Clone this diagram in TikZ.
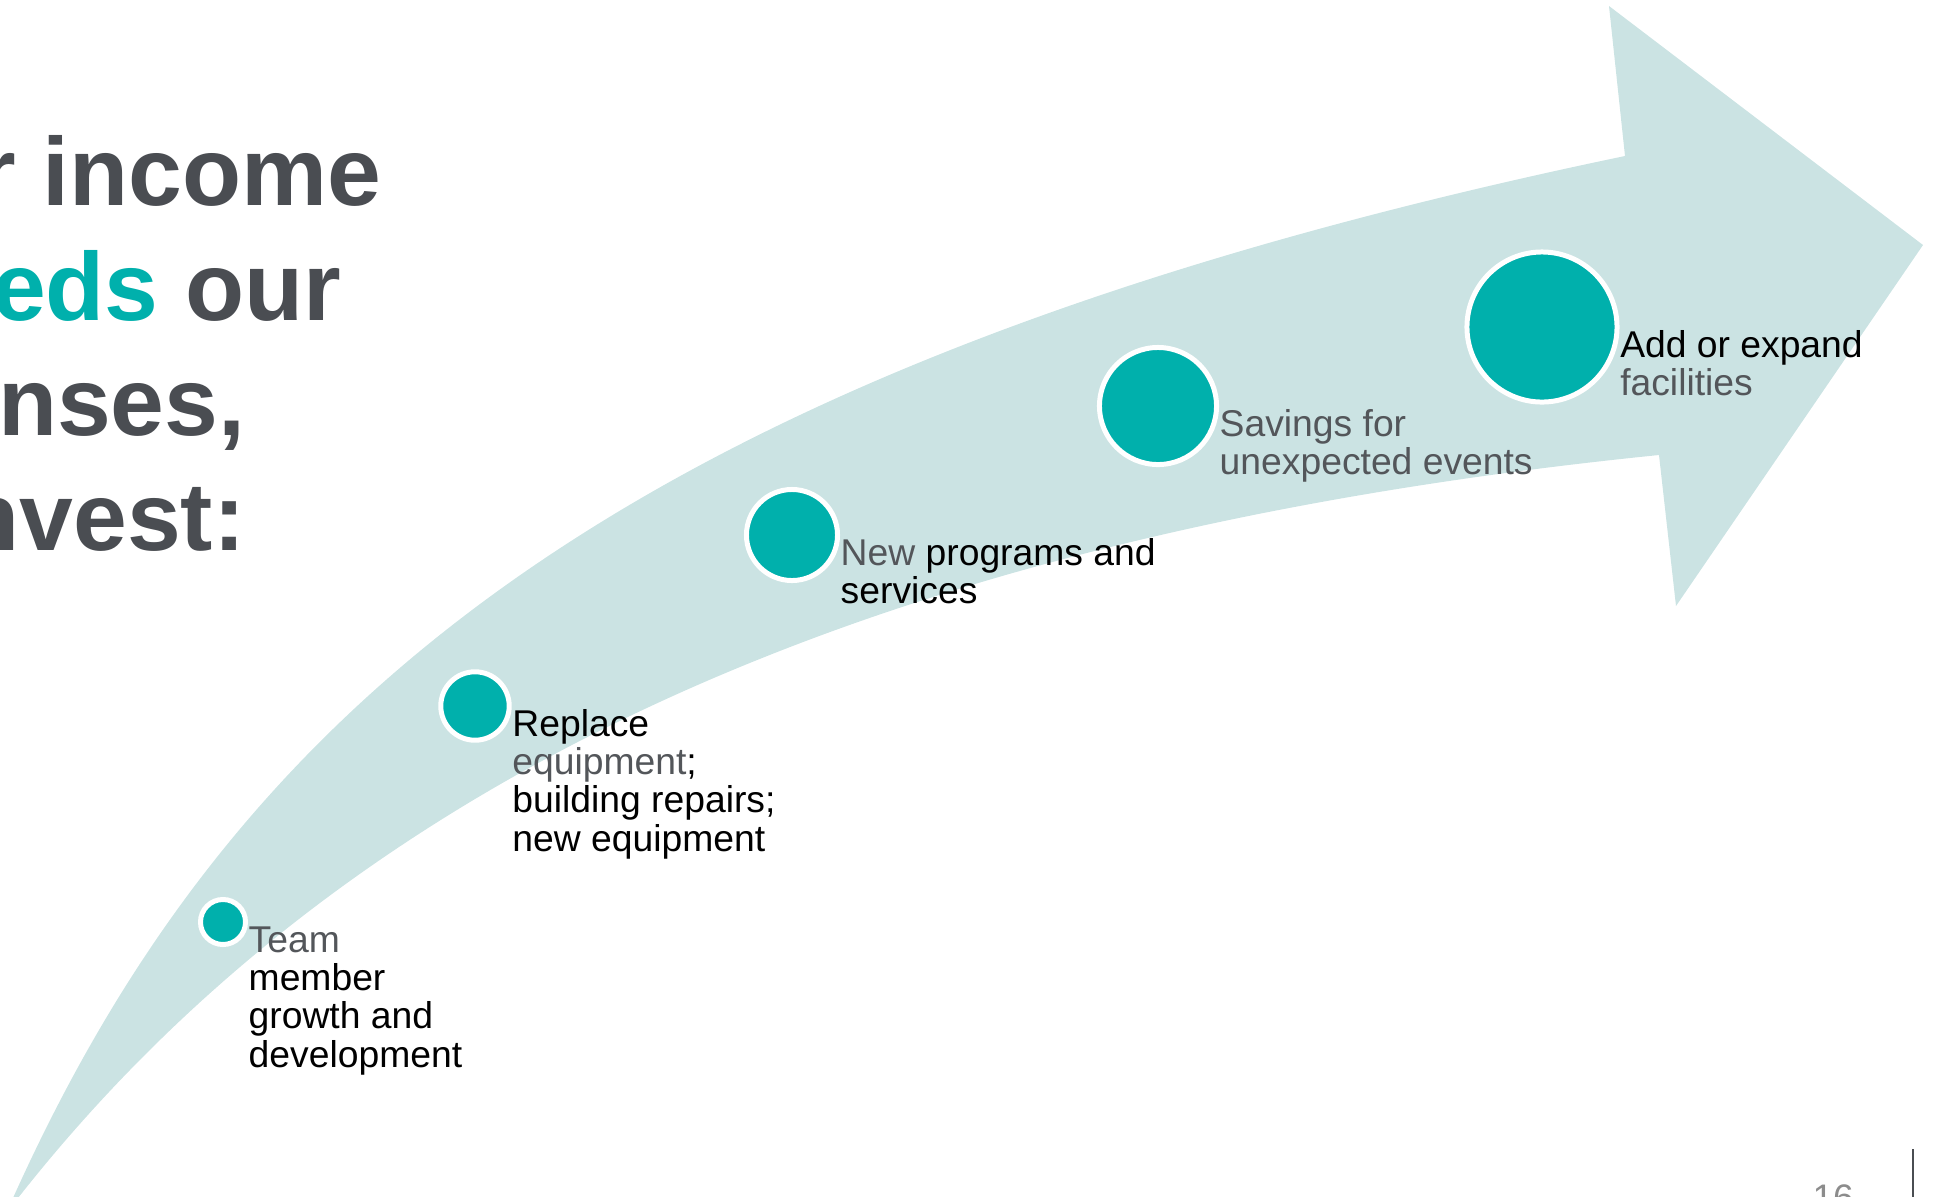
\documentclass[tikz,border=0pt]{standalone}
\usepackage{fontspec}
\setmainfont{Liberation Sans}
\usetikzlibrary{positioning}
\definecolor{dotteal}{HTML}{00B0AC}
\definecolor{bandcol}{HTML}{CBE3E3}
\definecolor{inkgray}{HTML}{4A4D52}
\definecolor{softgray}{HTML}{53565A}
\definecolor{pagegray}{HTML}{8C8C8C}

\begin{document}
\begin{tikzpicture}[x=0.01cm, y=-0.01cm,
    headline/.style={anchor=base east, inner sep=0, text=inkgray,
        font=\fontsize{27.5}{32.7}\selectfont\bfseries},
    dot/.style={circle, fill=dotteal, draw=white, line width=1.42pt, inner sep=0},
    note/.style={anchor=base west, align=left, inner sep=0,
        font=\fontsize{10.6}{10.9}\selectfont}]
    \useasboundingbox (0,0) rectangle (1938,1196);

    % Curved band with arrow head
    \fill[bandcol] (13,1198) .. controls (226,725) and (597,370) .. (1625,156)
        -- (1609,6) -- (1923,245) -- (1676,606) -- (1659,455)
        .. controls (907,531) and (364,758) .. (18,1198) -- cycle;

    % Headline, cut at the left edge
    \node[headline] (line1) at (382,205) {r income};
    \node[headline] (line2) at (342,320) {{\color{dotteal}eds} our};
    \node[headline] (line3) at (246,435) {nses,};
    \node[headline] (line4) at (246,550) {nvest:};

    % Steps along the band
    \foreach \n/\x/\y/\s in {1/223/922/0.45, 2/475/706/0.684, 3/792/535/0.91,
                              4/1158/406/1.17, 5/1542/327/1.5}
        \node[dot, minimum size=\s cm] (dot\n) at (\x,\y) {};

    \node[note] (txt1) at ([yshift=-3mm-32.7pt]dot1.east) {{\color{softgray}Team}\\member\\growth and\\development};
    \node[note] (txt2) at ([yshift=-3mm-32.7pt]dot2.east) {Replace\\{\color{softgray}equipment};\\building repairs;\\new equipment};
    \node[note] (txt3) at ([yshift=-3mm-10.9pt]dot3.east) {{\color{softgray}New} programs and\\services};
    \node[note, text=softgray] (txt4) at ([yshift=-3mm-10.9pt]dot4.east) {Savings for\\unexpected events};
    \node[note] (txt5) at ([yshift=-3mm-10.9pt]dot5.east) {Add or expand\\{\color{softgray}facilities}};

    % Page number and rule
    \node[anchor=north west, inner sep=0, text=pagegray,
        font=\fontsize{10.5}{12}\selectfont] (pagenum) at (1812,1184) {16};
    \draw[inkgray, line width=0.6pt] (1913,1149) -- (1913,1200);
\end{tikzpicture}
\end{document}
